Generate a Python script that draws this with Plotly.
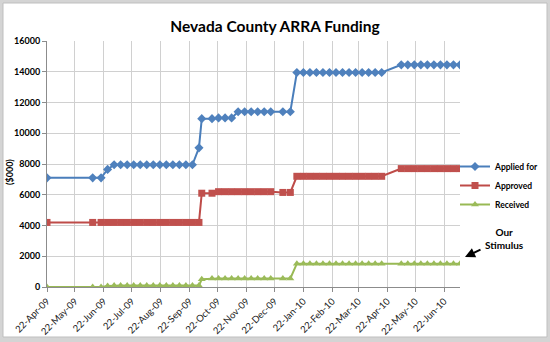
import plotly.graph_objects as go

# Weekly reporting dates
dates = [
    "2009-04-22", "2009-06-10", "2009-06-19", "2009-06-26", "2009-07-03",
    "2009-07-10", "2009-07-17", "2009-07-24", "2009-07-31", "2009-08-07",
    "2009-08-14", "2009-08-21", "2009-08-28", "2009-09-04", "2009-09-11",
    "2009-09-18", "2009-09-25", "2009-10-02", "2009-10-05", "2009-10-16",
    "2009-10-23", "2009-10-30", "2009-11-06", "2009-11-13", "2009-11-20",
    "2009-11-27", "2009-12-04", "2009-12-11", "2009-12-18", "2009-12-31",
    "2010-01-08", "2010-01-15", "2010-01-22", "2010-01-29", "2010-02-05",
    "2010-02-12", "2010-02-19", "2010-02-26", "2010-03-05", "2010-03-12",
    "2010-03-19", "2010-03-26", "2010-04-02", "2010-04-09", "2010-04-16",
    "2010-05-07", "2010-05-14", "2010-05-21", "2010-05-28", "2010-06-04",
    "2010-06-11", "2010-06-18", "2010-06-25", "2010-07-02", "2010-07-09",
]

# Funding in $000
applied_for = [
    7100, 7100, 7100, 7650, 7950,
    7950, 7950, 7950, 7950, 7950,
    7950, 7950, 7950, 7950, 7950,
    7950, 7950, 9050, 10950, 10950,
    11000, 11000, 11000, 11400, 11400,
    11400, 11400, 11400, 11400, 11400,
    11400, 13950, 13950, 13950, 13950,
    13950, 13950, 13950, 13950, 13950,
    13950, 13950, 13950, 13950, 13950,
    14450, 14450, 14450, 14450, 14450,
    14450, 14450, 14450, 14450, 14450,
]
approved = [
    4200, 4200, 4200, 4200, 4200,
    4200, 4200, 4200, 4200, 4200,
    4200, 4200, 4200, 4200, 4200,
    4200, 4200, 4200, 6100, 6100,
    6200, 6200, 6200, 6200, 6200,
    6200, 6200, 6200, 6200, 6150,
    6150, 7200, 7200, 7200, 7200,
    7200, 7200, 7200, 7200, 7200,
    7200, 7200, 7200, 7200, 7200,
    7700, 7700, 7700, 7700, 7700,
    7700, 7700, 7700, 7700, 7700,
]
received = [
    0, 0, 0, 60, 90,
    90, 90, 90, 90, 90,
    90, 90, 90, 90, 90,
    90, 90, 90, 500, 550,
    560, 560, 560, 560, 560,
    560, 560, 560, 560, 560,
    560, 1520, 1520, 1520, 1520,
    1520, 1520, 1520, 1520, 1520,
    1520, 1520, 1520, 1520, 1520,
    1520, 1520, 1520, 1520, 1520,
    1520, 1520, 1520, 1520, 1520,
]

# Monthly ticks on the 22nd
tick_dates = [
    "2009-04-22", "2009-05-22", "2009-06-22", "2009-07-22", "2009-08-22",
    "2009-09-22", "2009-10-22", "2009-11-22", "2009-12-22", "2010-01-22",
    "2010-02-22", "2010-03-22", "2010-04-22", "2010-05-22", "2010-06-22",
]
tick_labels = [
    "22-Apr-09", "22-May-09", "22-Jun-09", "22-Jul-09", "22-Aug-09",
    "22-Sep-09", "22-Oct-09", "22-Nov-09", "22-Dec-09", "22-Jan-10",
    "22-Feb-10", "22-Mar-10", "22-Apr-10", "22-May-10", "22-Jun-10",
]
y_ticks = [0, 2000, 4000, 6000, 8000, 10000, 12000, 14000, 16000]
y_labels = ["0", "2000", "4000", "6000", "8000", "10000", "12000", "14000", "16000"]

FONT = "Lato"
W, H = 550, 342
ML, MR, MT, MB = 47, 90, 41, 55
PW, PH = W - ML - MR, H - MT - MB


def px_x(px):
    return (px - ML) / PW


def px_y(py):
    return (H - MB - py) / PH


fig = go.Figure()
fig.add_trace(go.Scatter(
    x=dates, y=applied_for, name="<b>Applied for</b>", mode="lines+markers",
    line=dict(color="#4A7EBB", width=2),
    marker=dict(symbol="diamond", size=7, color="#4F81BD"),
))
fig.add_trace(go.Scatter(
    x=dates, y=approved, name="<b>Approved</b>", mode="lines+markers",
    line=dict(color="#BE4B48", width=2),
    marker=dict(symbol="square", size=7, color="#C0504D"),
))
fig.add_trace(go.Scatter(
    x=dates, y=received, name="<b>Received</b>", mode="lines+markers",
    line=dict(color="#98B954", width=2),
    marker=dict(symbol="triangle-up", size=7, color="#9BBB59"),
))

fig.update_layout(
    width=W, height=H,
    margin=dict(l=ML, r=MR, t=MT, b=MB, autoexpand=False),
    paper_bgcolor="#D4D4D4",
    plot_bgcolor="rgba(0,0,0,0)",
    font=dict(family=FONT, color="#000000"),
    title=dict(
        text="<b>Nevada County ARRA Funding</b>",
        x=0.5, xref="container", xanchor="center",
        y=1 - 27 / H, yref="container", yanchor="middle",
        font=dict(family=FONT, size=15.5, color="#000000"),
    ),
    xaxis=dict(
        type="date",
        range=["2009-04-22", "2010-07-09"],
        tickvals=tick_dates, ticktext=tick_labels,
        tickangle=-45,
        tickfont=dict(family=FONT, size=9.5, color="#222222"),
        showgrid=True, gridcolor="#D0D0D0", gridwidth=1,
        showline=True, linecolor="#8C8C8C", linewidth=1,
        ticks="outside", ticklen=4, tickcolor="#8C8C8C",
        zeroline=False,
    ),
    yaxis=dict(
        range=[0, 16000],
        tickvals=y_ticks, ticktext=y_labels,
        tickfont=dict(family=FONT, size=9, color="#000000", weight="bold"),
        showgrid=True, gridcolor="#D0D0D0", gridwidth=1,
        showline=True, linecolor="#8C8C8C", linewidth=1,
        ticks="outside", ticklen=4, tickcolor="#8C8C8C",
        zeroline=False,
    ),
    legend=dict(
        x=px_x(455), y=px_y(152), xanchor="left", yanchor="top",
        bgcolor="rgba(0,0,0,0)", borderwidth=0,
        font=dict(family=FONT, size=8.5, color="#000000"),
        tracegroupgap=0,
    ),
    shapes=[
        dict(
            type="rect", xref="paper", yref="paper", layer="below",
            x0=px_x(3), x1=px_x(547), y0=px_y(337), y1=px_y(3),
            fillcolor="#FFFFFF", line=dict(color="#BFBFBF", width=1),
        ),
    ],
    annotations=[
        dict(
            text="<b>($000)</b>", textangle=-90,
            xref="paper", yref="paper", x=px_x(9), y=px_y(172),
            xanchor="center", yanchor="middle", showarrow=False,
            font=dict(family=FONT, size=9, color="#000000"),
        ),
        dict(
            text="<b>Our<br>Stimulus</b>",
            xref="paper", yref="paper", x=px_x(504), y=px_y(238),
            xanchor="center", yanchor="middle", showarrow=False,
            font=dict(family=FONT, size=10, color="#000000"),
        ),
        dict(
            text="", xref="paper", yref="paper",
            x=px_x(465), y=px_y(257), ax=17, ay=-8,
            showarrow=True, arrowhead=2, arrowsize=1, arrowwidth=2,
            arrowcolor="#000000",
        ),
    ],
)

fig.write_html("out.html")
